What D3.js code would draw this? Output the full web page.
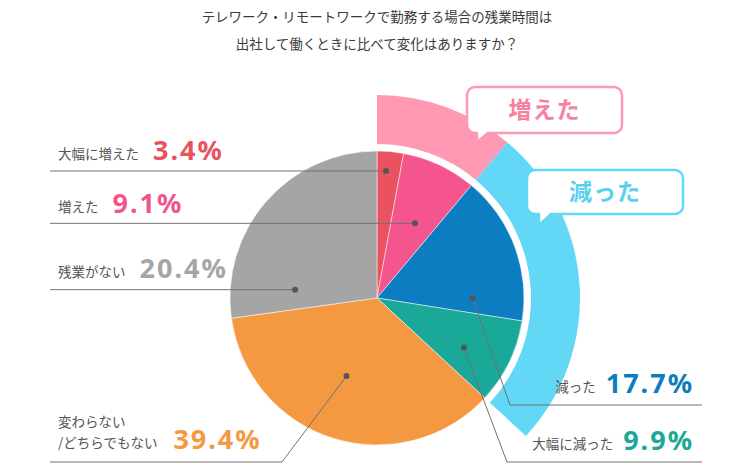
<!DOCTYPE html>
<html><head><meta charset="utf-8">
<script src="https://cdn.jsdelivr.net/npm/d3@7"></script>
<style>body{margin:0;background:#fff}svg{display:block}</style>
</head><body><svg id="c" width="750" height="470"></svg>
<script>
// ---------- data ----------
const titleLines = ["テレワーク・リモートワークで勤務する場合の残業時間は", "出社して働くときに比べて変化はありますか？"];
const categories = ["大幅に増えた", "増えた", "減った", "大幅に減った", "変わらない/どちらでもない", "残業がない"];
const nameLines = [["大幅に増えた"], ["増えた"], ["減った"], ["大幅に減った"], ["変わらない", "/どちらでもない"], ["残業がない"]];
const percentValues = [3.4, 9.1, 17.7, 9.9, 39.4, 20.4];
// slice sizes as drawn in the picture (share of the full circle, %)
const sliceShares = [2.9, 8.2, 16.4, 9.4, 35.9, 27.2];
const sliceColors = ["#E9535F", "#F4558F", "#0B7DC0", "#1AA899", "#F49942", "#A5A5A5"];
const percentColors = ["#E9535F", "#F0558E", "#0B7DC0", "#1AA899", "#F49942", "#A5A5A5"];
const groupLabels = ["増えた", "減った"];
const groupMembers = [[0, 1], [2, 3]];
const groupColors = ["#FF98B3", "#62D8F6"];
const groupTextColors = ["#F5829F", "#5CCFEF"];

// ---------- layout ----------
const W = 750, H = 470;
const cx = 377, cy = 298, R = 147;
const ringIn = 154, ringOut = 203;
const FONT_JP = "'Noto Sans CJK JP','Noto Sans',sans-serif";
const FONT_NUM = "'Noto Sans','Open Sans',sans-serif";
const leftX = 50, rightX = 702;
const labelLayout = [
  {side: "left", t: 0.39, k: 0.866, base: 160},
  {side: "left", t: 0.56, k: 0.57, base: 213},
  {side: "right", t: 0.85, k: 0.65, base: 393, lineY: 405, elbowX: 510},
  {side: "right", t: 0.61, k: 0.68, base: 450, lineY: 462, elbowX: 507},
  {side: "left", t: 0.53, k: 0.57, base: 449, lineY: 462, elbowX: 282},
  {side: "left", t: 0.14, k: 0.56, base: 278}
];
const boxes = [
  {x: 467, y: 87, w: 155, h: 46, tailL: 477, tailR: 488, tipY: 142},
  {x: 527, y: 170, w: 156, h: 44, tailL: 539, tailR: 551, tipY: 225}
];

const svg = d3.select("#c");

// title
svg.append("g").selectAll("text").data(titleLines).join("text")
  .attr("x", cx).attr("y", (d, i) => 22 + i * 27)
  .attr("text-anchor", "middle")
  .attr("font-family", FONT_JP).attr("font-size", 13.5).attr("fill", "#3a3a3a")
  .text(d => d);

const g = svg.append("g").attr("transform", `translate(${cx},${cy})`);
const pie = d3.pie().sort(null).value(d => d).startAngle(0).endAngle(2 * Math.PI);
const arcs = pie(sliceShares);
const arc = d3.arc().innerRadius(0).outerRadius(R);
const ringArc = d3.arc().innerRadius(ringIn).outerRadius(ringOut);

// group rings
g.selectAll("path.ring").data(groupMembers).join("path").attr("class", "ring")
  .attr("d", m => ringArc({startAngle: arcs[m[0]].startAngle, endAngle: arcs[m[m.length - 1]].endAngle}))
  .attr("fill", (d, i) => groupColors[i]);

// slices
g.selectAll("path.slice").data(arcs).join("path").attr("class", "slice")
  .attr("d", arc).attr("fill", (d, i) => sliceColors[i])
  .attr("stroke", "#fff").attr("stroke-width", 0.7).attr("stroke-opacity", 0.7);

// callout boxes
function boxPath(b) {
  const r = 8, x = b.x, y = b.y, w = b.w, h = b.h;
  return `M${x + r},${y} H${x + w - r} A${r},${r} 0 0 1 ${x + w},${y + r} V${y + h - r} A${r},${r} 0 0 1 ${x + w - r},${y + h}` +
    ` H${b.tailR} L${b.tailL},${b.tipY} V${y + h} H${x + r} A${r},${r} 0 0 1 ${x},${y + h - r} V${y + r} A${r},${r} 0 0 1 ${x + r},${y} Z`;
}
const bg = svg.append("g");
boxes.forEach((b, i) => {
  bg.append("path").attr("d", boxPath(b)).attr("fill", "#fff")
    .attr("stroke", groupColors[i]).attr("stroke-width", 2.5).attr("stroke-linejoin", "round");
  bg.append("text").attr("x", b.x + b.w / 2).attr("y", b.y + b.h / 2 + 8)
    .attr("text-anchor", "middle").attr("font-family", FONT_JP).attr("font-size", 23)
    .attr("font-weight", 700).attr("letter-spacing", 1).attr("fill", groupTextColors[i])
    .text(groupLabels[i]);
});

// leader lines + labels
const lg = svg.append("g");
const fmt = d3.format(".1f");
arcs.forEach((a, i) => {
  const L = labelLayout[i];
  const ang = a.startAngle + L.t * (a.endAngle - a.startAngle);
  const rr = L.k * R;
  const dx = cx + rr * Math.sin(ang), dy = cy - rr * Math.cos(ang);
  let pts;
  if (L.elbowX !== undefined) {
    const endX = L.side === "left" ? leftX : rightX;
    pts = [[dx, dy], [L.elbowX, L.lineY], [endX, L.lineY]];
  } else {
    pts = [[dx, dy], [leftX, dy]];
  }
  lg.append("path").attr("d", d3.line()(pts)).attr("fill", "none")
    .attr("stroke", "#707070").attr("stroke-width", 1);
  lg.append("circle").attr("cx", dx).attr("cy", dy).attr("r", 3).attr("fill", "#555");

  const lines = nameLines[i];
  const nameG = lg.append("g");
  const nameTexts = lines.map((s, j) => nameG.append("text")
    .attr("y", L.base - 1 - (lines.length - 1 - j) * 21)
    .attr("font-family", FONT_JP).attr("font-size", 13.5).attr("fill", "#555")
    .text(s));
  const pct = lg.append("text").attr("y", L.base)
    .attr("font-family", FONT_NUM).attr("font-size", 27).attr("font-weight", 700)
    .attr("letter-spacing", 2).attr("fill", percentColors[i])
    .text(fmt(percentValues[i]) + "%");
  if (L.side === "left") {
    const nameX = 58;
    nameTexts.forEach(t => t.attr("x", nameX));
    const wMax = d3.max(nameTexts, t => t.node().getComputedTextLength());
    pct.attr("x", nameX + wMax + (lines.length > 1 ? 16 : 14));
  } else {
    const pw = pct.node().getComputedTextLength();
    const px = 694 - pw;
    pct.attr("x", px);
    nameTexts.forEach(t => t.attr("x", px - 10).attr("text-anchor", "end"));
  }
});
</script>
</body></html>
